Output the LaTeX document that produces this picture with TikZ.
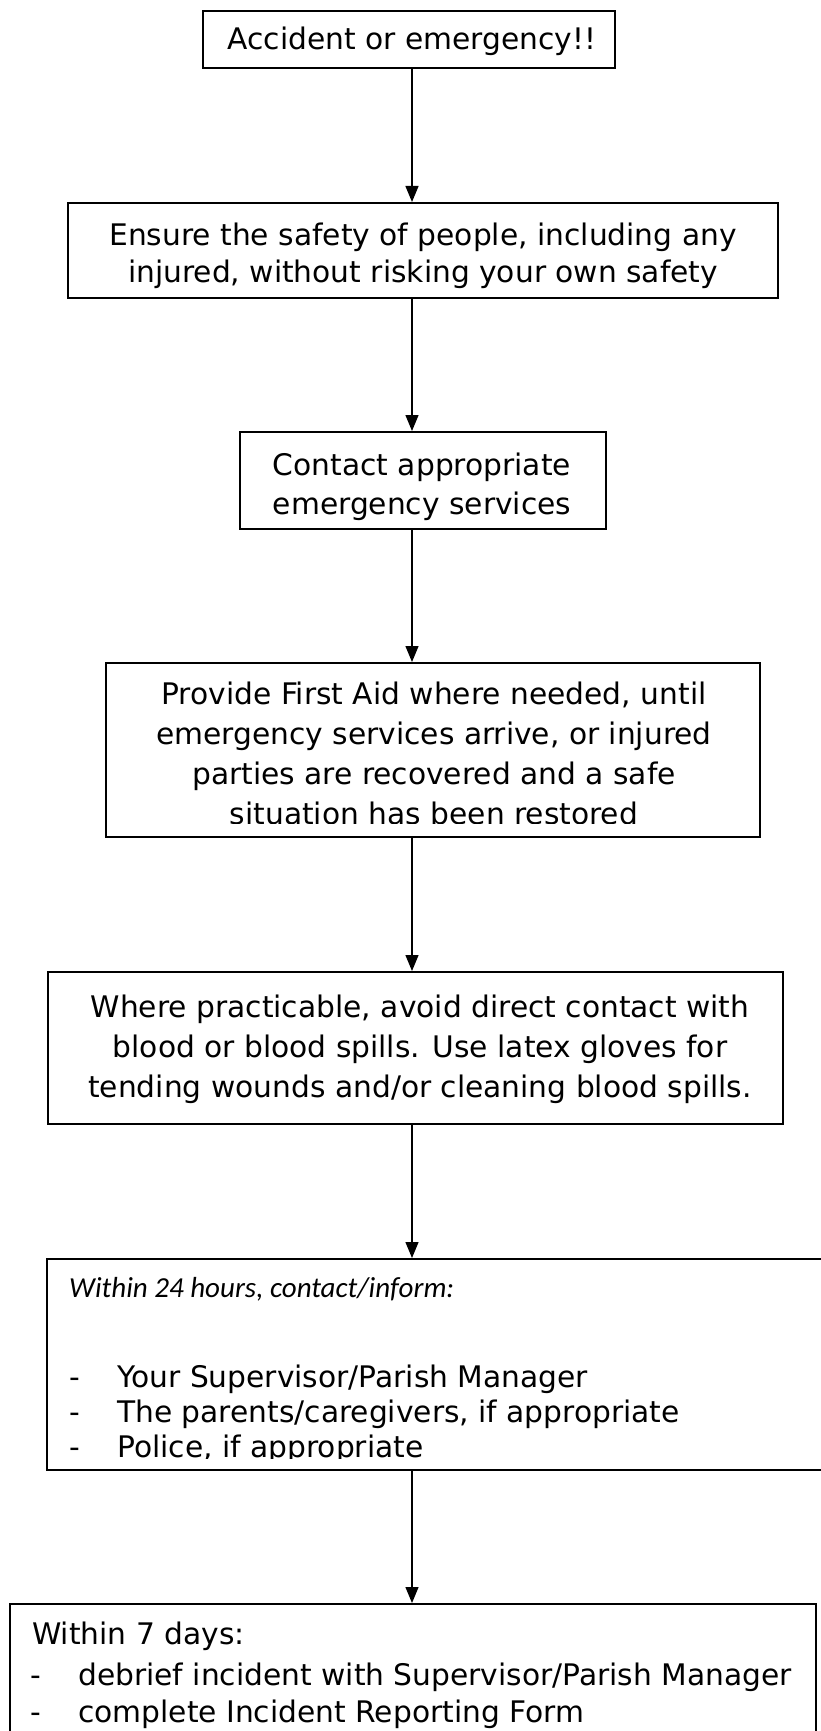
\documentclass[tikz,border=0pt]{standalone}
\usepackage{fontspec}
\setmainfont{DejaVu Sans}
\newfontfamily\carlito{Carlito}
\usetikzlibrary{arrows.meta}
\begin{document}
\begin{tikzpicture}[x=1pt,y=-1pt,
  box/.style={draw, line width=1.8pt, inner sep=0pt, anchor=north west},
  ln/.style={anchor=base, inner sep=0pt, font=\fontsize{29.7}{36}\selectfont},
  lnw/.style={anchor=base west, inner sep=0pt, font=\fontsize{29.7}{36}\selectfont},
  hdr/.style={anchor=base west, inner sep=0pt, font=\carlito\itshape\fontsize{29}{34}\selectfont},
  arr/.style={-{Triangle[length=16pt,width=13pt]}, line width=1.3pt}
]
\useasboundingbox (0,0) rectangle (821,1731);
\clip (0,0) rectangle (821,1731);
\fill[white] (0,0) rectangle (821,1731);
\coordinate (ax) at (412,0);

% boxes
\node[box, minimum width=412pt, minimum height=57pt] (b1) at (202,10) {};
\node[box, minimum width=710pt, minimum height=95pt] (b2) at (67,202) {};
\node[box, minimum width=366pt, minimum height=97pt] (b3) at (239,431) {};
\node[box, minimum width=654pt, minimum height=174pt] (b4) at (105,662) {};
\node[box, minimum width=735pt, minimum height=152pt] (b5) at (47,971) {};
\node[box, minimum width=800pt, minimum height=211pt] (b6) at (46,1258) {};
\node[box, minimum width=806pt, minimum height=150pt] (b7) at (9,1603) {};

% texts
\node[ln] (t1) at (412,50) {Accident or emergency!!};
\node[ln] (t2a) at (423,245) {Ensure the safety of people, including any};
\node[ln] (t2b) at (423,282) {injured, without risking your own safety};
\node[ln] (t3a) at (422,475) {Contact appropriate};
\node[ln] (t3b) at (422,514) {emergency services};
\begin{scope}
\clip (105,662) rectangle (759,823);
\node[ln] (t4a) at (434,704) {Provide First Aid where needed, until};
\node[ln] (t4b) at (434,744) {emergency services arrive, or injured};
\node[ln] (t4c) at (434,784) {parties are recovered and a safe};
\node[ln] (t4d) at (434,824) {situation has been restored};
\end{scope}
\node[ln] (t5a) at (420,1017) {Where practicable, avoid direct contact with};
\node[ln] (t5b) at (420,1057) {blood or blood spills. Use latex gloves for};
\node[ln] (t5c) at (420,1097) {tending wounds and/or cleaning blood spills.};

\node[hdr] (t6h) at (69,1297) {Within 24 hours, contact/inform:};
\begin{scope}
\clip (46,1258) rectangle (821,1458);
\node[lnw] (d6a) at (69,1387) {-};
\node[lnw] (t6a) at (117,1387) {Your Supervisor/Parish Manager};
\node[lnw] (d6b) at (69,1422) {-};
\node[lnw] (t6b) at (117,1422) {The parents/caregivers, if appropriate};
\node[lnw] (d6c) at (69,1457) {-};
\node[lnw] (t6c) at (117,1457) {Police, if appropriate};
\end{scope}

\node[lnw] (t7h) at (32,1644) {Within 7 days:};
\node[lnw] (d7a) at (30,1685) {-};
\node[lnw] (t7a) at (78,1685) {debrief incident with Supervisor/Parish Manager};
\node[lnw] (d7b) at (30,1722) {-};
\node[lnw] (t7b) at (78,1722) {complete Incident Reporting Form};

% connectors
\draw[arr] (ax |- b1.south) -- (ax |- b2.north);
\draw[arr] (ax |- b2.south) -- (ax |- b3.north);
\draw[arr] (ax |- b3.south) -- (ax |- b4.north);
\draw[arr] (ax |- b4.south) -- (ax |- b5.north);
\draw[arr] (ax |- b5.south) -- (ax |- b6.north);
\draw[arr] (ax |- b6.south) -- (ax |- b7.north);
\end{tikzpicture}
\end{document}
